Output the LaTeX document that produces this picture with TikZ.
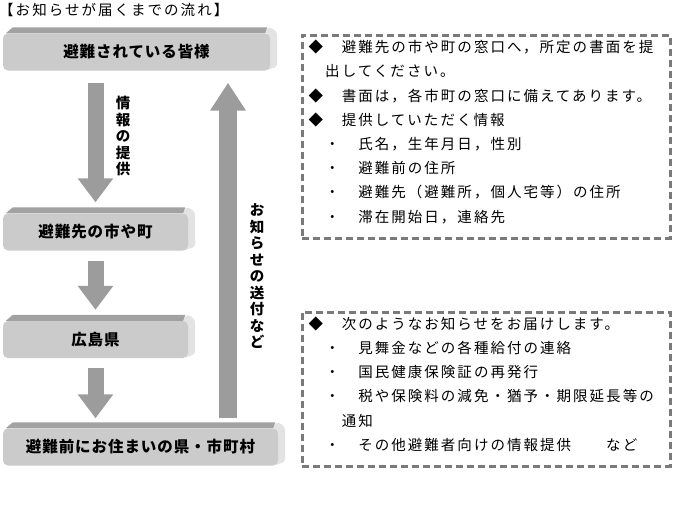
\documentclass[tikz,border=0pt]{standalone}
\usepackage{fontspec}
\usepackage{xcolor}
\usepackage{tikz}
\usetikzlibrary{positioning,arrows.meta,backgrounds}
\newfontfamily\jpbody{Noto Sans CJK JP}[LetterSpace=14]
\newfontfamily\jphead{Noto Sans CJK JP}[LetterSpace=6]
\definecolor{boxface}{HTML}{CBCBCB}
\definecolor{boxtop}{HTML}{A2A2A2}
\definecolor{boxside}{HTML}{E3E3E3}
\definecolor{arrowgray}{HTML}{9C9C9C}
\definecolor{dashgray}{HTML}{7A7A7A}

\begin{document}
\begin{tikzpicture}[x=1pt, y=-1pt,
    flowbox/.style={fill=boxface, rounded corners=5pt, inner sep=0pt, minimum height=37pt,
        font=\jphead\bfseries\fontsize{15.5}{16}\selectfont},
    fatarrow/.style={draw=arrowgray, line width=16pt, -{Triangle[width=34pt,length=24pt]}},
    notebox/.style={draw=dashgray, line width=3pt, dash pattern=on 7pt off 4pt, inner sep=0pt},
    notetext/.style={anchor=north west, inner sep=0pt, align=left,
        font=\jpbody\fontsize{14.5}{24.2}\selectfont},
    vlabel/.style={align=center, inner sep=0pt, font=\jphead\bfseries\fontsize{14.5}{16.5}\selectfont}]
    \useasboundingbox (0,0) rectangle (696,512);

    \node[anchor=west, inner sep=0pt, font=\jpbody\fontsize{14.5}{16}\selectfont] (title) at (-1,10) {【お知らせが届くまでの流れ】};

    % Flow
    \node[flowbox, minimum width=267pt] (evac) at (136.5,52) {避難されている皆様};
    \node[flowbox, minimum width=185pt] (host) at (95.5,232) {避難先の市や町};
    \node[flowbox, minimum width=185pt] (pref) at (95.5,339.5) {広島県};
    \node[flowbox, minimum width=275pt] (home) at (140.5,447) {避難前にお住まいの県・市町村};

    \begin{scope}[on background layer]
        \foreach \b in {evac,host,pref,home} {
            \fill[boxside, rounded corners=3pt] ([xshift=-5pt]\b.north east) -- ([xshift=-3pt,yshift=6pt]\b.north east)
                -- ([xshift=3pt,yshift=5pt]\b.north east) -- ([xshift=7pt]\b.north east)
                -- ([xshift=7pt,yshift=4pt]\b.south east) -- ([xshift=-5pt]\b.south east) -- cycle;
            \fill[boxtop] ([xshift=3pt]\b.north west) -- ([xshift=10pt,yshift=6pt]\b.north west)
                -- ([xshift=-3pt,yshift=6pt]\b.north east) -- ([xshift=-5pt]\b.north east) -- cycle;
        }
    \end{scope}

    \draw[fatarrow] ([yshift=-12pt]evac.south -| host.north) -- ([yshift=11pt]host.north);
    \draw[fatarrow] ([yshift=-10pt]host.south) -- ([yshift=11pt]pref.north);
    \draw[fatarrow] ([yshift=-10pt]pref.south) -- ([yshift=10pt]home.north -| pref.south);
    \coordinate (back) at (228,0);
    \draw[fatarrow, line width=18pt, -{Triangle[width=34pt,length=28pt]}] ([yshift=10pt]home.north -| back) -- ([yshift=-12pt]evac.south -| back);

    \node[vlabel] (info) at (123,136) {情\\報\\の\\提\\供};
    \node[vlabel] (notice) at (257,276.5) {お\\知\\ら\\せ\\の\\送\\付\\な\\ど};

    % Notes
    \node[notebox, minimum width=368pt, minimum height=203pt] (req) at (486,136.5) {};
    \node[notetext] (reqtext) at ([xshift=8pt,yshift=-6.5pt]req.north west) {%
        ◆　避難先の市や町の窓口へ，所定の書面を提\\
        　出してください。\\
        ◆　書面は，各市町の窓口に備えてあります。\\
        ◆　提供していただく情報\\
        　・　氏名，生年月日，性別\\
        　・　避難前の住所\\
        　・　避難先（避難所，個人宅等）の住所\\
        　・　滞在開始日，連絡先};

    \node[notebox, minimum width=368pt, minimum height=154pt] (send) at (486,389) {};
    \node[notetext] (sendtext) at ([xshift=8pt,yshift=-6pt]send.north west) {%
        ◆　次のようなお知らせをお届けします。\\
        　・　見舞金などの各種給付の連絡\\
        　・　国民健康保険証の再発行\\
        　・　税や保険料の減免・猶予・期限延長等の\\
        　　通知\\
        　・　その他避難者向けの情報提供　　など};
\end{tikzpicture}
\end{document}
